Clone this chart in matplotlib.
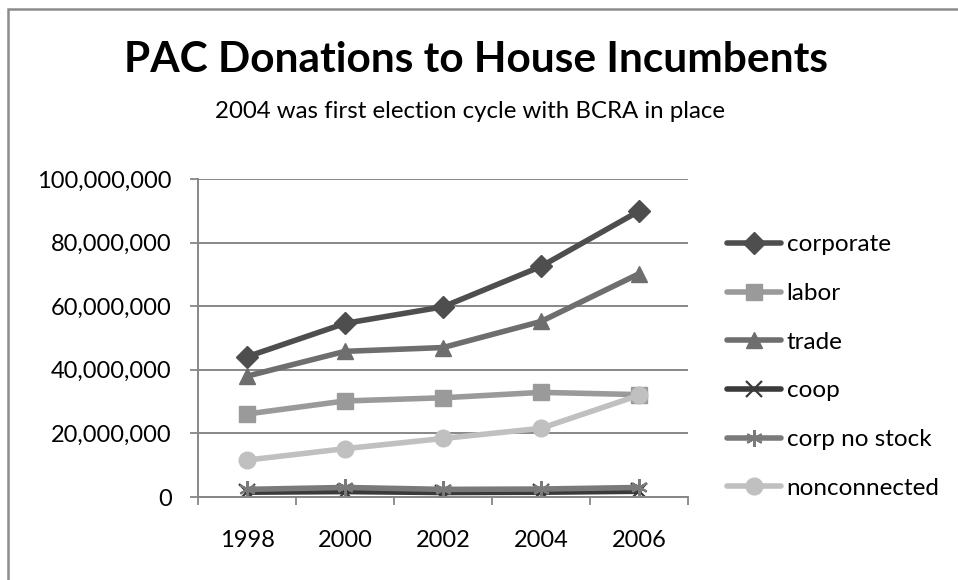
import matplotlib
matplotlib.use("Agg")
import matplotlib.pyplot as plt
from matplotlib.patches import Rectangle
import numpy as np

plt.rcParams['font.family'] = ['Lato', 'DejaVu Sans']

years = ['1998', '2000', '2002', '2004', '2006']

# donations per election cycle, in dollars
corporate = [44.1e6, 54.6e6, 59.8e6, 72.5e6, 89.9e6]
labor = [26.1e6, 30.2e6, 31.2e6, 32.9e6, 32.2e6]
trade = [38.0e6, 45.8e6, 47.0e6, 55.2e6, 70.2e6]
coop = [1.5e6, 1.7e6, 1.4e6, 1.5e6, 1.8e6]
corp_no_stock = [2.4e6, 3.0e6, 2.4e6, 2.5e6, 3.0e6]
nonconnected = [11.6e6, 15.2e6, 18.4e6, 21.6e6, 32.0e6]

series = [
    ('corporate', corporate, '#4e4e4e', 'D', 11),
    ('labor', labor, '#9a9a9a', 's', 11),
    ('trade', trade, '#6e6e6e', '^', 12),
    ('coop', coop, '#3a3a3a', 'x', 11),
    ('corp no stock', corp_no_stock, '#7a7a7a', (6, 2, 0), 12),
    ('nonconnected', nonconnected, '#c0c0c0', 'o', 12),
]

W, H = 958, 580
fig = plt.figure(figsize=(W / 100, H / 100), dpi=100)
fig.patch.set_facecolor('white')

# chart area border (only top and left edges fall inside the image)
fig.patches.append(Rectangle((8 / W, -0.1), 1.2, 1 - 9 / H + 0.1,
                             transform=fig.transFigure, fill=False,
                             edgecolor='#8c8c8c', linewidth=1.8))

ax = fig.add_axes([198 / W, 1 - 497 / H, 490 / W, 318 / H])
x = np.arange(len(years))

for name, vals, col, mk, ms in series:
    mew = 1.6 if mk in ('x', (6, 2, 0)) else 1
    ax.plot(x, vals, color=col, linewidth=4, marker=mk, markersize=ms,
            markerfacecolor=col, markeredgecolor=col, markeredgewidth=mew,
            label=name, solid_capstyle='round', solid_joinstyle='round')

ax.set_xlim(-0.5, len(years) - 0.5)
ax.set_ylim(0, 100e6)
ax.set_yticks(np.arange(0, 100e6 + 1, 20e6))
ax.set_yticklabels([f'{int(v):,}' for v in np.arange(0, 100e6 + 1, 20e6)],
                   fontsize=17)
ax.yaxis.grid(True, color='#878787', linewidth=1.4)
ax.set_axisbelow(True)

ax.set_xticks(x)
ax.set_xticklabels(years, fontsize=17)
ax.set_xticks(np.arange(-0.5, len(years)), minor=True)
ax.tick_params(axis='x', which='major', length=0, pad=24)
ax.tick_params(axis='x', which='minor', length=6, width=1.3, color='#878787')
ax.tick_params(axis='y', length=6, width=1.3, color='#878787', pad=13)

for side in ('top', 'right'):
    ax.spines[side].set_visible(False)
for side in ('left', 'bottom'):
    ax.spines[side].set_color('#878787')
    ax.spines[side].set_linewidth(1.4)

ax.legend(loc='center left', bbox_to_anchor=(1.08, 0.41), frameon=False,
          fontsize=17.5, handlelength=2.2, handletextpad=0.25,
          labelspacing=1.14, borderaxespad=0, borderpad=0)

fig.text(476 / W, 1 - 60 / H, 'PAC Donations to House Incumbents',
         ha='center', va='center', fontsize=30.5, fontweight='bold')
fig.text(470 / W, 1 - 112 / H, '2004 was first election cycle with BCRA in place',
         ha='center', va='center', fontsize=17.3)

fig.savefig('out.png', dpi=100)
